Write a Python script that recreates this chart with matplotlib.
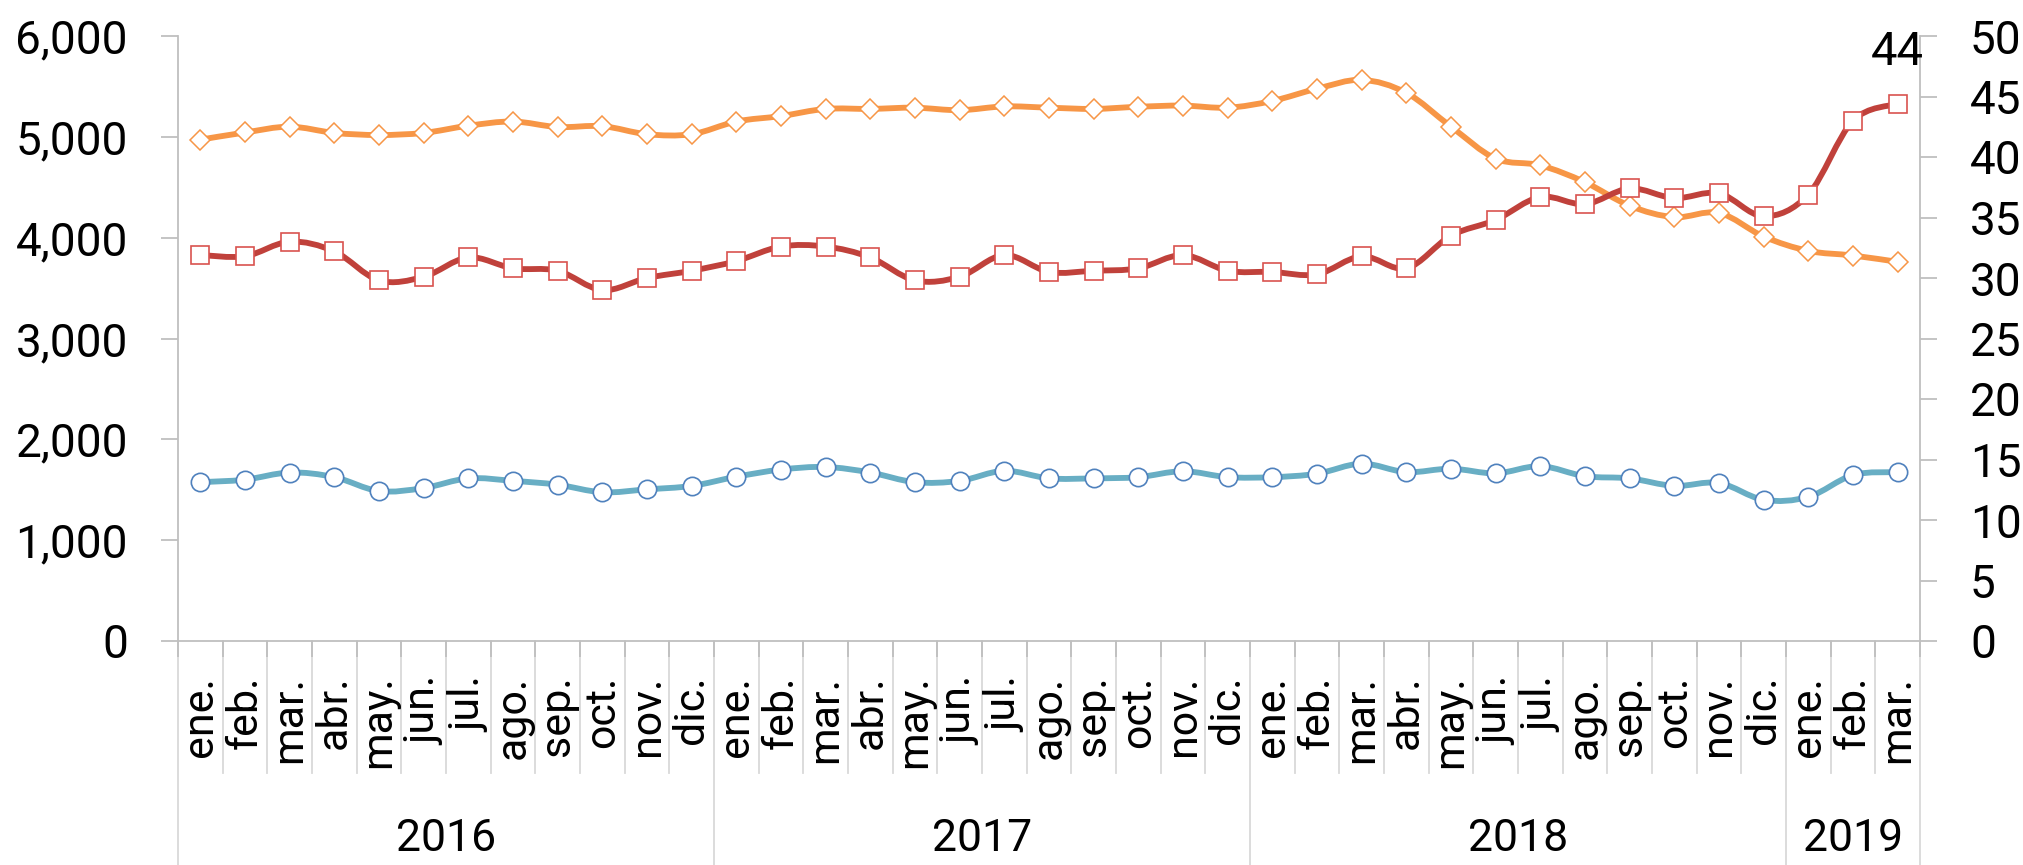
import numpy as np
import matplotlib
matplotlib.use("Agg")
import matplotlib.pyplot as plt
from matplotlib.path import Path
from matplotlib.patches import PathPatch
from matplotlib.ticker import FuncFormatter
import matplotlib.transforms as mtransforms

plt.rcParams['font.family'] = ['Roboto', 'DejaVu Sans']

months = ["ene.", "feb.", "mar.", "abr.", "may.", "jun.", "jul.", "ago.",
          "sep.", "oct.", "nov.", "dic."]
years = ["2016", "2017", "2018", "2019"]
months_per_year = [12, 12, 12, 3]

# Left axis series
orange = [4972, 5043, 5101, 5039, 5018, 5039, 5110, 5152, 5097, 5106, 5026, 5026,
          5152, 5206, 5277, 5277, 5289, 5264, 5302, 5289, 5277, 5298, 5310, 5289,
          5356, 5477, 5565, 5436, 5101, 4784, 4717, 4550, 4316, 4203, 4245, 4011,
          3869, 3823, 3760]
blue = [1575, 1600, 1671, 1625, 1487, 1517, 1613, 1588, 1550, 1475, 1504, 1538,
        1629, 1700, 1726, 1671, 1575, 1588, 1688, 1613, 1613, 1625, 1684, 1625,
        1625, 1659, 1759, 1675, 1709, 1663, 1734, 1634, 1613, 1538, 1567, 1400,
        1429, 1646, 1675]
# Right axis series
red = [31.9, 31.8, 33.0, 32.2, 29.8, 30.1, 31.7, 30.8, 30.6, 29.0, 30.0, 30.6,
       31.4, 32.6, 32.6, 31.7, 29.8, 30.1, 31.9, 30.5, 30.6, 30.8, 31.9, 30.6,
       30.5, 30.3, 31.8, 30.8, 33.5, 34.8, 36.7, 36.1, 37.4, 36.6, 37.0, 35.1,
       36.9, 43.0, 44.4]

left_ticks = [0, 1000, 2000, 3000, 4000, 5000, 6000]
right_ticks = [0, 5, 10, 15, 20, 25, 30, 35, 40, 45, 50]

month_labels = []
for ny in months_per_year:
    month_labels += months[:ny]
n = len(month_labels)
x = np.arange(n)

GRAY = "#BFBFBF"
LIGHT = "#D9D9D9"
C_OR = "#F79646"
C_RED = "#C0413B"
C_RED_M = "#D9534F"
C_BL = "#68AEC4"
C_BL_M = "#4F81BD"

fig = plt.figure(figsize=(20.23, 8.65), dpi=100)
ax = fig.add_axes([178/2023, 1-641/865, (1920-178)/2023, (641-36)/865])
ax2 = ax.twinx()


def smooth(axis, xs, ys, color, lw):
    xs = np.asarray(xs, float)
    ys = np.asarray(ys, float)
    P = np.column_stack([xs, ys])
    Pext = np.vstack([P[0], P, P[-1]])
    verts = [P[0]]
    codes = [Path.MOVETO]
    for i in range(len(P) - 1):
        p0, p1, p2, p3 = Pext[i], Pext[i+1], Pext[i+2], Pext[i+3]
        c1 = p1 + (p2 - p0) / 6.0
        c2 = p2 - (p3 - p1) / 6.0
        verts += [c1, c2, p2]
        codes += [Path.CURVE4] * 3
    patch = PathPatch(Path(verts, codes), facecolor='none', edgecolor=color,
                      lw=lw, capstyle='round', joinstyle='round', zorder=2)
    axis.add_patch(patch)


LW = 4.2
smooth(ax, x, orange, C_OR, LW)
smooth(ax, x, blue, C_BL, LW)
ax.plot(x, orange, ls='none', marker='D', ms=10, mfc='white', mec=C_OR,
        mew=1.1, zorder=3)
ax.plot(x, blue, ls='none', marker='o', ms=13.2, mfc='white', mec=C_BL_M,
        mew=1.2, zorder=3)

smooth(ax2, x, red, C_RED, LW)
ax2.plot(x, red, ls='none', marker='s', ms=13.5, mfc='white', mec=C_RED_M,
         mew=1.2, zorder=3)

ax.set_xlim(-0.5, n - 0.5)
ax.set_ylim(0, 6000)
ax2.set_ylim(0, 50)

ax.set_yticks(left_ticks)
ax.yaxis.set_major_formatter(FuncFormatter(lambda v, p: f"{int(v):,}"))
ax2.set_yticks(right_ticks)
ax2.yaxis.set_major_formatter(FuncFormatter(lambda v, p: f"{int(v)}"))

for a in (ax, ax2):
    for s in a.spines.values():
        s.set_color(GRAY)
        s.set_linewidth(1.3)
    a.spines['top'].set_visible(False)
ax.spines['right'].set_visible(False)
ax2.spines['left'].set_visible(False)
ax2.spines['bottom'].set_visible(False)

ax.tick_params(axis='y', direction='out', length=12, width=1.3, color=GRAY,
               pad=24, labelsize=33, labelcolor='black')
ax2.tick_params(axis='y', direction='out', length=12, width=1.3, color=GRAY,
                pad=24, labelsize=33, labelcolor='black')

# x axis: boundary ticks + month labels at centers
ax.set_xticks(np.arange(-0.5, n, 1.0))
ax.set_xticklabels([])
ax.tick_params(axis='x', which='major', direction='out', length=11.5,
               width=1.3, color=GRAY)
ax.set_xticks(x, minor=True)
ax.set_xticklabels(month_labels, minor=True, rotation=90, fontsize=31)
ax.tick_params(axis='x', which='minor', length=0, pad=25)

# separators
trans = mtransforms.blended_transform_factory(ax.transData, ax.transAxes)
ax_h_px = 641 - 36
month_end = -(773 - 641) / ax_h_px
year_end = -(865 - 641) / ax_h_px
year_bounds = [-0.5]
acc = -0.5
for ny in months_per_year:
    acc += ny
    year_bounds.append(acc)
for b in np.arange(-0.5, n, 1.0):
    y1 = year_end if any(abs(b - yb) < 1e-9 for yb in year_bounds) else month_end
    ax.plot([b, b], [0, y1], transform=trans, color=LIGHT, lw=1.3,
            clip_on=False, zorder=0)

# year labels
start = 0
for yl, ny in zip(years, months_per_year):
    cx = start + (ny - 1) / 2.0
    ax.text(cx, -(839 - 641) / ax_h_px, yl, transform=trans, ha='center',
            va='center', fontsize=32)
    start += ny

# last value label
ax2.annotate(f"{round(red[-1])}", xy=(x[-1], red[-1]), xytext=(0, 37),
             textcoords='offset points', ha='center', va='center', fontsize=34)

fig.savefig("out.png", dpi=100)
